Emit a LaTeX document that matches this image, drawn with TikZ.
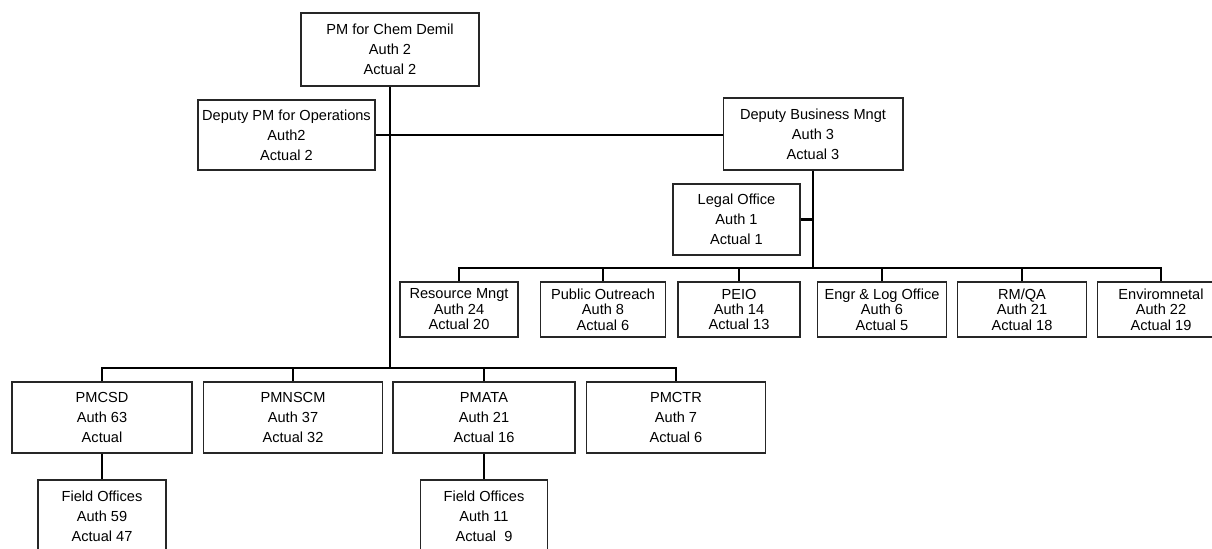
\documentclass[tikz,border=0pt]{standalone}
\usepackage{fontspec}
\setmainfont{Liberation Sans}
\usetikzlibrary{positioning}

\begin{document}
\begin{tikzpicture}[
  x=0.02cm, y=-0.02cm,
  box/.style={rectangle, draw=black!85, line width=0.6pt, align=center, inner sep=0pt, minimum height=1.42cm, font=\fontsize{8.3}{11.4}\selectfont},
  tight/.style={minimum height=1.1cm, font=\fontsize{8.3}{8.8}\selectfont},
  link/.style={line width=1.25pt, black}
]
  \useasboundingbox (0,0) rectangle (1212,548);

  \node[box, minimum width=3.56cm, minimum height=1.46cm] (pm) at (390,49.5) {PM for Chem Demil\\Auth 2\\Actual 2};
  \node[box, minimum width=3.54cm, minimum height=1.4cm] (ops) at (286.5,135) {Deputy PM for Operations\\Auth2\\Actual 2};
  \node[box, minimum width=3.6cm, minimum height=1.44cm] (dbm) at (813,134) {Deputy Business Mngt\\Auth 3\\Actual 3};
  \node[box, minimum width=2.54cm] (legal) at (736.5,219.5) {Legal Office\\Auth 1\\Actual 1};

  % staff offices
  \node[box, tight, minimum width=2.36cm] (res) at (459,309.5) {Resource Mngt\\Auth 24\\Actual 20};
  \node[box, tight, minimum width=2.5cm] (pub) at (603,309.5) {Public Outreach\\Auth 8\\Actual 6};
  \node[box, tight, minimum width=2.44cm] (peio) at (739,309.5) {PEIO\\Auth 14\\Actual 13};
  \node[box, tight, minimum width=2.58cm] (engr) at (882,309.5) {Engr \& Log Office\\Auth 6\\Actual 5};
  \node[box, tight, minimum width=2.58cm] (rmqa) at (1022,309.5) {RM/QA\\Auth 21\\Actual 18};
  \node[box, tight, minimum width=2.56cm] (env) at (1161,309.5) {Enviromnetal\\Auth 22\\Actual 19};

  % project managers
  \node[box, minimum width=3.6cm] (pmcsd) at (102,417.5) {PMCSD\\Auth 63\\Actual};
  \node[box, minimum width=3.58cm] (pmnscm) at (293,417.5) {PMNSCM\\Auth 37\\Actual 32};
  \node[box, minimum width=3.64cm] (pmata) at (484,417.5) {PMATA\\Auth 21\\Actual 16};
  \node[box, minimum width=3.58cm] (pmctr) at (676,417.5) {PMCTR\\Auth 7\\Actual 6};

  \node[box, minimum width=2.56cm, minimum height=1.44cm] (fo1) at (102,516) {Field Offices\\Auth 59\\Actual 47};
  \node[box, minimum width=2.54cm, minimum height=1.44cm] (fo2) at (484,516) {Field Offices\\Auth 11\\Actual~~9};

  \coordinate (hub2) at (813,268);
  \coordinate (hub3) at (389,368);

  \draw[link] (pm.south) -- (pm.south |- hub3);
  \draw[link] (ops.east) -- (ops.east -| dbm.west);
  \draw[link] (dbm.south) -- (hub2);
  \draw[link] (legal.east) -- (legal.east -| dbm.south);
  \draw[link] (res.north) |- (hub2) -| (env.north);
  \foreach \n in {pub,peio,engr,rmqa}
    \draw[link] (\n.north) -- (\n.north |- hub2);
  \draw[link] (pmcsd.north) |- (hub3) -| (pmctr.north);
  \foreach \n in {pmnscm,pmata}
    \draw[link] (\n.north) -- (\n.north |- hub3);
  \draw[link] (pmcsd.south) -- (fo1.north);
  \draw[link] (pmata.south) -- (fo2.north);

\end{tikzpicture}
\end{document}
